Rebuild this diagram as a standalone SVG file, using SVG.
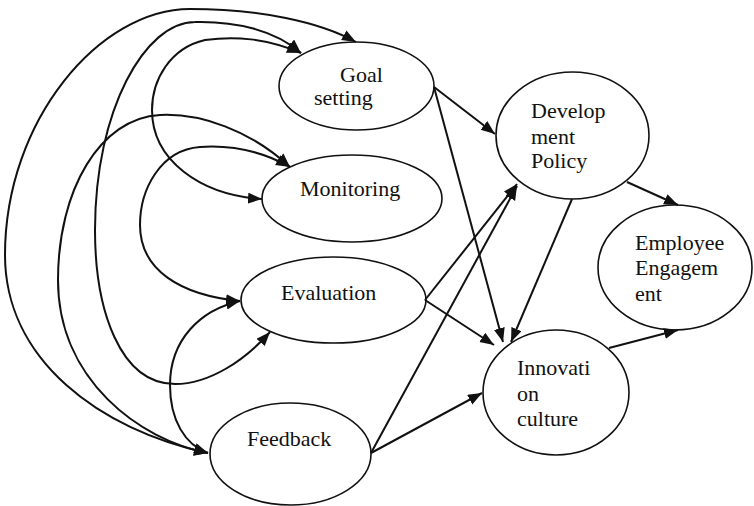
<svg xmlns="http://www.w3.org/2000/svg" width="754" height="506" viewBox="0 0 754 506">
<style>
.n{fill:#fff;stroke:#111;stroke-width:1.6}
.t{font-family:"Liberation Serif","Times New Roman",serif;font-size:22px;fill:#111}
.c{fill:none;stroke:#111;stroke-width:2}
.b{marker-start:url(#ah);marker-end:url(#ah)}
.e{marker-end:url(#ah)}
</style>
<defs>
<marker id="ah" markerUnits="userSpaceOnUse" markerWidth="16" markerHeight="12" refX="14" refY="5.5" orient="auto-start-reverse">
<path d="M0,0 L14,5.5 L0,11 z" fill="#111"/>
</marker>
</defs>
<rect width="754" height="506" fill="#fff"/>
<g id="goal"><ellipse class="n" cx="356.5" cy="86" rx="77.5" ry="44"/><text class="t" x="340" y="82">Goal</text><text class="t" x="314" y="105">setting</text></g>
<g id="monitoring"><ellipse class="n" cx="352" cy="198.5" rx="90" ry="43.5"/><text class="t" x="300" y="196">Monitoring</text></g>
<g id="evaluation"><ellipse class="n" cx="333.5" cy="300" rx="92.5" ry="43"/><text class="t" x="281" y="300">Evaluation</text></g>
<g id="feedback"><ellipse class="n" cx="290.5" cy="454" rx="80.5" ry="51"/><text class="t" x="247" y="446">Feedback</text></g>
<g id="devpolicy"><ellipse class="n" cx="572.5" cy="135.5" rx="76.5" ry="63.5"/><text class="t" x="531" y="118">Develop</text><text class="t" x="531" y="144">ment</text><text class="t" x="531" y="168">Policy</text></g>
<g id="engagement"><ellipse class="n" cx="675" cy="267.5" rx="77" ry="62.5"/><text class="t" x="635" y="250">Employee</text><text class="t" x="635" y="275">Engagem</text><text class="t" x="635" y="301">ent</text></g>
<g id="innovation"><ellipse class="n" cx="556" cy="392.5" rx="73" ry="62.5"/><text class="t" x="517" y="375">Innovati</text><text class="t" x="517" y="401">on</text><text class="t" x="517" y="426">culture</text></g>
<g id="connectors">
<path class="c b" d="M208,453 C100,430 5,360 5,255 C5,120 100,9 190,9 C260,9 320,22 356,42"/>
<path class="c b" d="M301,53 C275,30 235,21 195,22 C145,22 95,110 95,230 C95,310 120,384 175,384 C210,384 245,360 270,332"/>
<path class="c b" d="M301,53 C265,38 235,36 205,40 C170,48 152,80 152,110 C152,160 200,195 262,199"/>
<path class="c b" d="M290,167 C250,130 200,113 160,115 C100,118 58,190 58,280 C58,380 140,440 208,453"/>
<path class="c b" d="M290,167 C260,150 230,145 200,147 C160,150 140,190 140,225 C140,270 180,295 240,301"/>
<path class="c b" d="M240,301 C200,310 170,340 170,385 C170,420 185,445 208,453"/>
<path class="c e" d="M434,87 L495,134"/>
<path class="c e" d="M434,87 L503,342"/>
<path class="c e" d="M572,199 L511,342"/>
<path class="c e" d="M425,300 L494,345"/>
<path class="c e" d="M425,300 L517,184"/>
<path class="c e" d="M371,453 L517,186"/>
<path class="c e" d="M371,453 L482,393"/>
<path class="c e" d="M627,182 L678,205"/>
<path class="c e" d="M609,348 L678,330"/>
</g>
</svg>
